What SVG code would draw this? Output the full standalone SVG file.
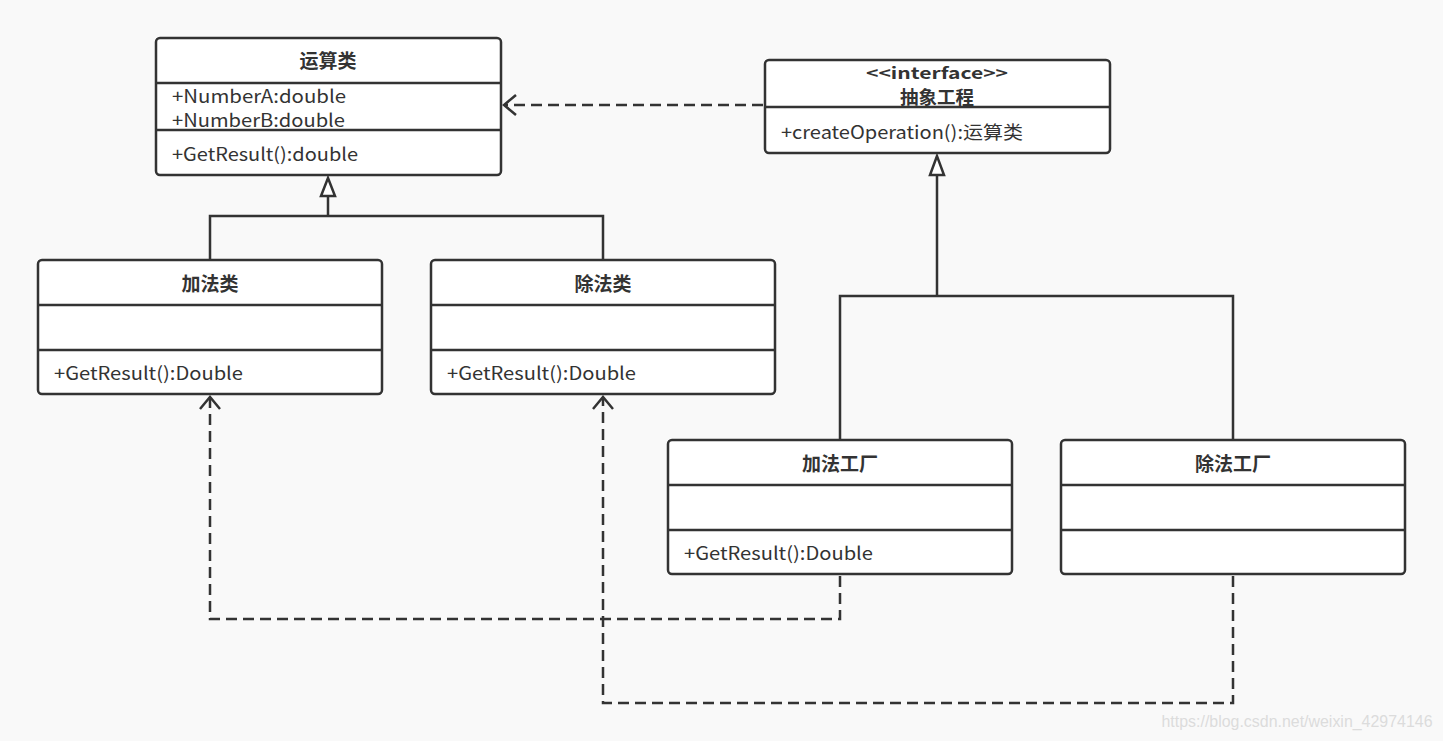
<svg xmlns="http://www.w3.org/2000/svg" width="1443" height="741" viewBox="0 0 1443 741">
<style>
.box{fill:#ffffff;stroke:#333333;stroke-width:2.5}
.sep{stroke:#333333;stroke-width:2.5}
.t{font-family:"Noto Sans CJK SC","Noto Sans",sans-serif;font-size:18px;fill:#333333}
.b{font-weight:bold;text-anchor:middle;font-size:19px}
.c{fill:none;stroke:#333333;stroke-width:2.5}
.d{stroke-dasharray:11 6}
</style>
<rect width="1443" height="741" fill="#f9f9f9"/>
<g id="connectors">
<polyline class="c" points="210,260 210,216 603,216 603,260"/>
<line class="c" x1="328" y1="216" x2="328" y2="196"/>
<polygon points="328,178 321,196 335,196" fill="#ffffff" stroke="#333333" stroke-width="2.5"/>
<polyline class="c" points="840,440 840,296 1233,296 1233,440"/>
<line class="c" x1="937" y1="296" x2="937" y2="175"/>
<polygon points="937,156 930,175 944,175" fill="#ffffff" stroke="#333333" stroke-width="2.5"/>
<line class="c d" x1="763" y1="105" x2="506" y2="105"/>
<polyline class="c" points="516,95 504,105 516,115"/>
<polyline class="c d" points="840,576 840,619 210,619 210,399"/>
<polyline class="c" points="200,409 210,397 220,409"/>
<polyline class="c d" points="1233,576 1233,703 603,703 603,399"/>
<polyline class="c" points="593,409 603,397 613,409"/>
</g>
<g id="node-operation">
<rect class="box" x="156" y="38" width="345" height="137" rx="4"/>
<line class="sep" x1="156" y1="83" x2="501" y2="83"/>
<line class="sep" x1="156" y1="130" x2="501" y2="130"/>
<text class="t b" x="328" y="68">运算类</text>
<text class="t" x="172" y="103" textLength="174" lengthAdjust="spacingAndGlyphs">+NumberA:double</text>
<text class="t" x="172" y="127" textLength="173" lengthAdjust="spacingAndGlyphs">+NumberB:double</text>
<text class="t" x="172" y="161" textLength="186" lengthAdjust="spacingAndGlyphs">+GetResult():double</text>
</g>
<g id="node-interface">
<rect class="box" x="765" y="60" width="345" height="93" rx="4"/>
<line class="sep" x1="765" y1="107" x2="1110" y2="107"/>
<text class="t b" x="937" y="79" style="font-size:16px" textLength="142" lengthAdjust="spacingAndGlyphs">&lt;&lt;interface&gt;&gt;</text>
<text class="t b" x="937" y="104" style="font-size:18.5px">抽象工程</text>
<text class="t" x="781" y="139" textLength="242" lengthAdjust="spacingAndGlyphs">+createOperation():运算类</text>
</g>
<g id="node-add">
<rect class="box" x="38" y="260" width="344" height="134" rx="4"/>
<line class="sep" x1="38" y1="305" x2="382" y2="305"/>
<line class="sep" x1="38" y1="350" x2="382" y2="350"/>
<text class="t b" x="210" y="291">加法类</text>
<text class="t" x="54" y="380" textLength="189" lengthAdjust="spacingAndGlyphs">+GetResult():Double</text>
</g>
<g id="node-div">
<rect class="box" x="431" y="260" width="344" height="134" rx="4"/>
<line class="sep" x1="431" y1="305" x2="775" y2="305"/>
<line class="sep" x1="431" y1="350" x2="775" y2="350"/>
<text class="t b" x="603" y="291">除法类</text>
<text class="t" x="447" y="380" textLength="189" lengthAdjust="spacingAndGlyphs">+GetResult():Double</text>
</g>
<g id="node-addfactory">
<rect class="box" x="668" y="440" width="344" height="134" rx="4"/>
<line class="sep" x1="668" y1="485" x2="1012" y2="485"/>
<line class="sep" x1="668" y1="530" x2="1012" y2="530"/>
<text class="t b" x="840" y="471">加法工厂</text>
<text class="t" x="684" y="560" textLength="189" lengthAdjust="spacingAndGlyphs">+GetResult():Double</text>
</g>
<g id="node-divfactory">
<rect class="box" x="1061" y="440" width="344" height="134" rx="4"/>
<line class="sep" x1="1061" y1="485" x2="1405" y2="485"/>
<line class="sep" x1="1061" y1="530" x2="1405" y2="530"/>
<text class="t b" x="1233" y="471">除法工厂</text>
</g>
<text x="1297" y="727" text-anchor="middle" font-family="Liberation Sans, Arial, sans-serif" font-size="16" fill="#dcdcdc" textLength="271" lengthAdjust="spacingAndGlyphs">https://blog.csdn.net/weixin_42974146</text>
</svg>
